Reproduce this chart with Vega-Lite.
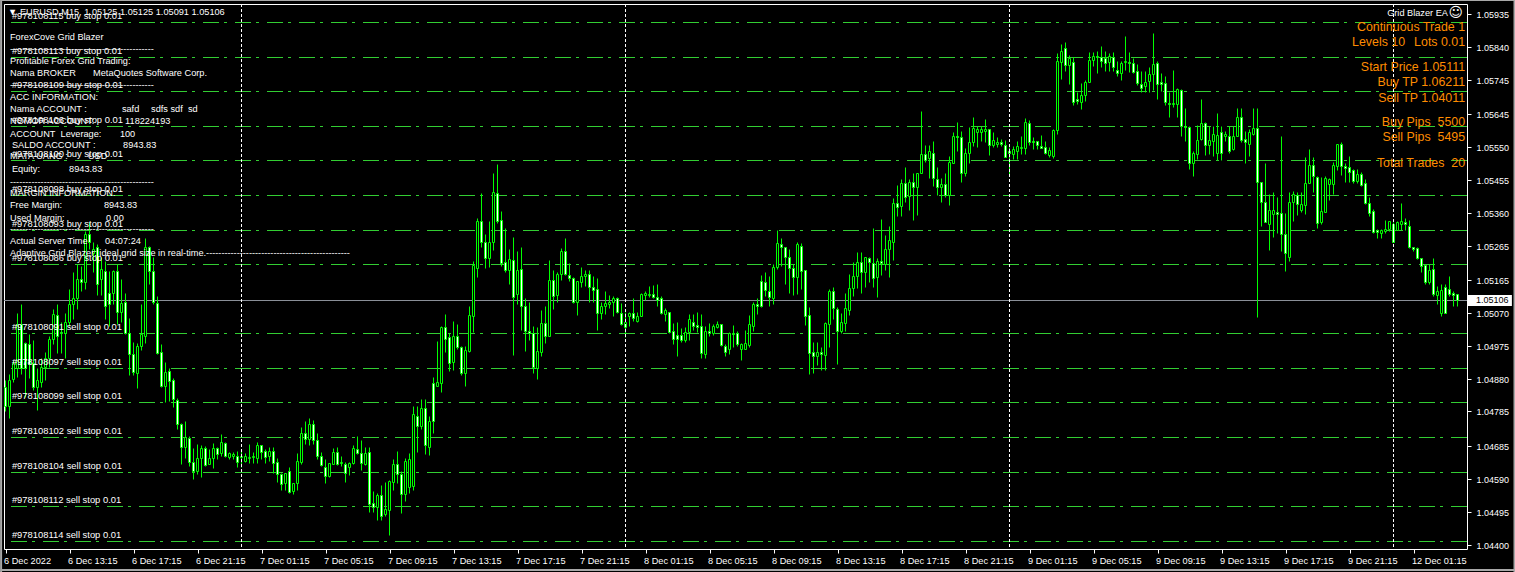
{"$schema":"https://vega.github.io/schema/vega-lite/v6.json","width":1463,"height":545,"autosize":{"type":"none"},"padding":{"left":4,"top":4,"right":48,"bottom":23},"background":"#000000","view":{"stroke":"#ffffff","strokeWidth":1,"fill":"#000000"},
"datasets":{
"grid":[{"p":1.05911},{"p":1.05811},{"p":1.05711},{"p":1.05611},{"p":1.05511},{"p":1.05411},{"p":1.05311},{"p":1.05211},{"p":1.05011},{"p":1.04911},{"p":1.04811},{"p":1.04711},{"p":1.04611},{"p":1.04511},{"p":1.04411}],
"last":[{"p":1.05106}],
"days":[{"i":59},{"i":155},{"i":251},{"i":347}],
"edge":[{"i":-1.25,"i2":377.5,"p":1.05974,"p2":1.05974},{"i":-1.25,"i2":377.5,"p":1.04326,"p2":1.04326},{"i":-1.1,"i2":-1.1,"p":1.05977,"p2":1.0432},{"i":377.25,"i2":377.25,"p":1.05977,"p2":1.0432}],
"orders":[{"i":1.6,"p":1.05911,"t":"#978108115 buy stop 0.01"},{"i":1.6,"p":1.05811,"t":"#978108113 buy stop 0.01"},{"i":1.6,"p":1.05711,"t":"#978108109 buy stop 0.01"},{"i":1.6,"p":1.05611,"t":"#978108106 buy stop 0.01"},{"i":1.6,"p":1.05511,"t":"#978108100 buy stop 0.01"},{"i":1.6,"p":1.05411,"t":"#978108098 buy stop 0.01"},{"i":1.6,"p":1.05311,"t":"#978108093 buy stop 0.01"},{"i":1.6,"p":1.05211,"t":"#978108086 buy stop 0.01"},{"i":1.6,"p":1.05011,"t":"#978108091 sell stop 0.01"},{"i":1.6,"p":1.04911,"t":"#978108097 sell stop 0.01"},{"i":1.6,"p":1.04811,"t":"#978108099 sell stop 0.01"},{"i":1.6,"p":1.04711,"t":"#978108102 sell stop 0.01"},{"i":1.6,"p":1.04611,"t":"#978108104 sell stop 0.01"},{"i":1.6,"p":1.04511,"t":"#978108112 sell stop 0.01"},{"i":1.6,"p":1.04411,"t":"#978108114 sell stop 0.01"}],
"panel":[{"i":0.6,"p":1.05941,"t":"▼"},{"i":3.6,"p":1.05941,"t":"EURUSD,M15\u00a0\u00a01.05125 1.05125 1.05091 1.05106"},{"i":1.125,"p":1.05867,"t":"ForexCove Grid Blazer"},{"i":1.125,"p":1.05832,"t":"-----------------------------------------------"},{"i":1.125,"p":1.05798,"t":"Profitable Forex Grid Trading:"},{"i":1.125,"p":1.05763,"t":"Nama BROKER"},{"i":21.9,"p":1.05763,"t":"MetaQuotes Software Corp."},{"i":1.125,"p":1.05728,"t":"-----------------------------------------------"},{"i":1.125,"p":1.05696,"t":"ACC INFORMATION:"},{"i":1.125,"p":1.05659,"t":"Nama ACCOUNT :"},{"i":29.1,"p":1.05659,"t":"safd"},{"i":36.4,"p":1.05659,"t":"sdfs sdf"},{"i":45.6,"p":1.05659,"t":"sd"},{"i":1.125,"p":1.05624,"t":"NOMOR ACCOUNT:"},{"i":29.9,"p":1.05624,"t":"118224193"},{"i":1.125,"p":1.05589,"t":"ACCOUNT\u00a0\u00a0Leverage:"},{"i":28.6,"p":1.05589,"t":"100"},{"i":1.6,"p":1.05555,"t":"SALDO ACCOUNT :"},{"i":29.4,"p":1.05555,"t":"8943.83"},{"i":1.125,"p":1.05523,"t":"MATA UANG :"},{"i":20.6,"p":1.05523,"t":"USD"},{"i":1.6,"p":1.05485,"t":"Equity:"},{"i":15.9,"p":1.05485,"t":"8943.83"},{"i":1.125,"p":1.0545,"t":"-----------------------------------------------"},{"i":1.125,"p":1.05416,"t":"MARGIN INFORMATION:"},{"i":1.125,"p":1.05381,"t":"Free Margin:"},{"i":24.6,"p":1.05381,"t":"8943.83"},{"i":1.125,"p":1.05346,"t":"Used Margin:"},{"i":25.1,"p":1.05346,"t":"0.00"},{"i":1.125,"p":1.05312,"t":"-----------------------------------------------"},{"i":1.125,"p":1.05277,"t":"Actual Server Time"},{"i":24.9,"p":1.05277,"t":"04:07:24"},{"i":1.125,"p":1.05242,"t":"Adaptive Grid Blazer: ideal grid size in real-time.-----------------------------------------------"}],
"side":[{"i":364.9,"p":1.05896,"t":"Continuous Trade 1"},{"i":349.9,"p":1.05853,"t":"Levels 10"},{"i":364.9,"p":1.05853,"t":"Lots 0.01"},{"i":364.9,"p":1.0578,"t":"Start Price 1.05111"},{"i":364.9,"p":1.05737,"t":"Buy TP 1.06211"},{"i":364.9,"p":1.05693,"t":"Sell TP 1.04011"},{"i":364.9,"p":1.05621,"t":"Buy Pips\u00a0\u00a05500"},{"i":364.9,"p":1.05578,"t":"Sell Pips\u00a0\u00a05495"},{"i":364.9,"p":1.05505,"t":"Total Trades\u00a0\u00a020"}],
"ea":[{"i":360.6,"p":1.05937,"t":"Grid Blazer EA"}],
"smile":[{"i":362.6,"p":1.05937,"t":"☺"}],
"tag":[{"i":365.6,"i2":376.6,"p":1.05123,"p2":1.05089}],
"tagtext":[{"i":367.6,"p":1.05106,"t":"1.05106"}],
"bars":[
{"i":0,"o":1.04857,"h":1.04877,"l":1.04785,"c":1.048},{"i":1,"o":1.048,"h":1.04892,"l":1.04765,"c":1.04877},{"i":2,"o":1.0488,"h":1.04935,"l":1.04871,"c":1.04926},{"i":3,"o":1.04912,"h":1.05071,"l":1.04886,"c":1.05039},{"i":4,"o":1.05039,"h":1.05097,"l":1.04892,"c":1.04912},{"i":5,"o":1.04984,"h":1.04987,"l":1.04828,"c":1.04912},{"i":6,"o":1.04981,"h":1.05008,"l":1.04883,"c":1.04921},{"i":7,"o":1.04926,"h":1.04993,"l":1.04848,"c":1.04857},{"i":8,"o":1.04857,"h":1.04912,"l":1.04788,"c":1.04877},{"i":9,"o":1.04871,"h":1.04941,"l":1.04857,"c":1.04915},
{"i":10,"o":1.04915,"h":1.04958,"l":1.04877,"c":1.04941},{"i":11,"o":1.04941,"h":1.05002,"l":1.04915,"c":1.04996},{"i":12,"o":1.04996,"h":1.0508,"l":1.04979,"c":1.05068},{"i":13,"o":1.05063,"h":1.05095,"l":1.04955,"c":1.05002},{"i":14,"o":1.05016,"h":1.05045,"l":1.04955,"c":1.05013},{"i":15,"o":1.05013,"h":1.05071,"l":1.04941,"c":1.05045},{"i":16,"o":1.05045,"h":1.05138,"l":1.05031,"c":1.05097},{"i":17,"o":1.05097,"h":1.05187,"l":1.05051,"c":1.05112},{"i":18,"o":1.05112,"h":1.05211,"l":1.0508,"c":1.05167},{"i":19,"o":1.05167,"h":1.05205,"l":1.05132,"c":1.05158},
{"i":20,"o":1.05158,"h":1.05306,"l":1.05138,"c":1.05297},{"i":21,"o":1.05297,"h":1.05332,"l":1.05254,"c":1.05274},{"i":22,"o":1.05242,"h":1.05274,"l":1.05187,"c":1.05254},{"i":23,"o":1.0526,"h":1.05268,"l":1.05123,"c":1.05153},{"i":24,"o":1.05167,"h":1.05233,"l":1.05123,"c":1.05196},{"i":25,"o":1.0519,"h":1.05219,"l":1.05051,"c":1.05091},{"i":26,"o":1.05129,"h":1.0519,"l":1.05031,"c":1.05095},{"i":27,"o":1.05129,"h":1.05193,"l":1.05095,"c":1.0519},{"i":28,"o":1.0519,"h":1.05211,"l":1.05037,"c":1.05074},{"i":29,"o":1.05074,"h":1.05167,"l":1.05045,"c":1.051},
{"i":30,"o":1.05103,"h":1.05129,"l":1.05008,"c":1.05013},{"i":31,"o":1.05013,"h":1.05054,"l":1.04889,"c":1.0495},{"i":32,"o":1.04952,"h":1.04987,"l":1.04889,"c":1.049},{"i":33,"o":1.04897,"h":1.04984,"l":1.04854,"c":1.04973},{"i":34,"o":1.04973,"h":1.05097,"l":1.04964,"c":1.05008},{"i":35,"o":1.05002,"h":1.05288,"l":1.04984,"c":1.0526},{"i":36,"o":1.0526,"h":1.05265,"l":1.05155,"c":1.0519},{"i":37,"o":1.0519,"h":1.05233,"l":1.05095,"c":1.05103},{"i":38,"o":1.051,"h":1.05118,"l":1.0495,"c":1.04955},{"i":39,"o":1.04958,"h":1.04979,"l":1.04857,"c":1.0486},
{"i":40,"o":1.0486,"h":1.04929,"l":1.04811,"c":1.049},{"i":41,"o":1.04903,"h":1.04912,"l":1.04814,"c":1.04874},{"i":42,"o":1.04877,"h":1.04883,"l":1.04797,"c":1.0482},{"i":43,"o":1.04817,"h":1.04825,"l":1.04733,"c":1.04748},{"i":44,"o":1.04748,"h":1.04753,"l":1.04634,"c":1.04681},{"i":45,"o":1.04681,"h":1.04756,"l":1.04649,"c":1.0471},{"i":46,"o":1.04707,"h":1.04713,"l":1.04626,"c":1.0464},{"i":47,"o":1.0464,"h":1.04678,"l":1.04591,"c":1.04614},{"i":48,"o":1.04614,"h":1.04692,"l":1.04603,"c":1.04649},{"i":49,"o":1.04649,"h":1.04687,"l":1.04594,"c":1.04678},
{"i":50,"o":1.04678,"h":1.04684,"l":1.04626,"c":1.04629},{"i":51,"o":1.04632,"h":1.04675,"l":1.04632,"c":1.04649},{"i":52,"o":1.04649,"h":1.04695,"l":1.0462,"c":1.04678},{"i":53,"o":1.04678,"h":1.04681,"l":1.04646,"c":1.04661},{"i":54,"o":1.04666,"h":1.04719,"l":1.04655,"c":1.04698},{"i":55,"o":1.04695,"h":1.04698,"l":1.04652,"c":1.04655},{"i":56,"o":1.04652,"h":1.04669,"l":1.04646,"c":1.04664},{"i":57,"o":1.04655,"h":1.04669,"l":1.04646,"c":1.04661},{"i":58,"o":1.04655,"h":1.04672,"l":1.04623,"c":1.0464},{"i":59,"o":1.04652,"h":1.04675,"l":1.04623,"c":1.04655},
{"i":60,"o":1.04643,"h":1.04666,"l":1.0464,"c":1.04655},{"i":61,"o":1.04649,"h":1.04692,"l":1.04637,"c":1.04652},{"i":62,"o":1.04652,"h":1.04669,"l":1.04637,"c":1.04655},{"i":63,"o":1.04649,"h":1.04698,"l":1.04637,"c":1.04689},{"i":64,"o":1.04687,"h":1.04689,"l":1.04646,"c":1.04669},{"i":65,"o":1.04672,"h":1.04675,"l":1.04637,"c":1.04652},{"i":66,"o":1.04655,"h":1.04681,"l":1.04643,"c":1.04672},{"i":67,"o":1.04672,"h":1.04681,"l":1.04608,"c":1.04637},{"i":68,"o":1.0464,"h":1.04649,"l":1.04582,"c":1.04603},{"i":69,"o":1.04605,"h":1.04608,"l":1.04559,"c":1.04574},
{"i":70,"o":1.04577,"h":1.04608,"l":1.04559,"c":1.04608},{"i":71,"o":1.04614,"h":1.04623,"l":1.04548,"c":1.04553},{"i":72,"o":1.04556,"h":1.04579,"l":1.04545,"c":1.04577},{"i":73,"o":1.04577,"h":1.04664,"l":1.04559,"c":1.04643},{"i":74,"o":1.0464,"h":1.04739,"l":1.04632,"c":1.04724},{"i":75,"o":1.04724,"h":1.04756,"l":1.04692,"c":1.04704},{"i":76,"o":1.04704,"h":1.04765,"l":1.04689,"c":1.0475},{"i":77,"o":1.04748,"h":1.04759,"l":1.04692,"c":1.04701},{"i":78,"o":1.04701,"h":1.04724,"l":1.04646,"c":1.04655},{"i":79,"o":1.04655,"h":1.04669,"l":1.04626,"c":1.04629},
{"i":80,"o":1.04623,"h":1.04646,"l":1.04579,"c":1.04597},{"i":81,"o":1.04597,"h":1.04637,"l":1.04594,"c":1.04637},{"i":82,"o":1.04634,"h":1.04678,"l":1.04632,"c":1.04669},{"i":83,"o":1.04669,"h":1.04681,"l":1.04629,"c":1.04634},{"i":84,"o":1.04637,"h":1.04655,"l":1.04626,"c":1.0464},{"i":85,"o":1.04634,"h":1.0464,"l":1.04582,"c":1.04608},{"i":86,"o":1.04623,"h":1.0464,"l":1.046,"c":1.04637},{"i":87,"o":1.04637,"h":1.04689,"l":1.04632,"c":1.04678},{"i":88,"o":1.04675,"h":1.04713,"l":1.04661,"c":1.04664},{"i":89,"o":1.04664,"h":1.04701,"l":1.04617,"c":1.04637},
{"i":90,"o":1.04632,"h":1.04681,"l":1.04629,"c":1.04666},{"i":91,"o":1.04669,"h":1.04681,"l":1.04493,"c":1.04516},{"i":92,"o":1.04519,"h":1.04556,"l":1.04493,"c":1.0451},{"i":93,"o":1.0451,"h":1.04548,"l":1.04472,"c":1.04542},{"i":94,"o":1.04542,"h":1.04571,"l":1.04472,"c":1.04484},{"i":95,"o":1.04487,"h":1.04582,"l":1.04484,"c":1.04504},{"i":96,"o":1.04501,"h":1.04588,"l":1.04429,"c":1.04585},{"i":97,"o":1.04582,"h":1.04646,"l":1.04559,"c":1.04632},{"i":98,"o":1.04632,"h":1.04672,"l":1.04579,"c":1.04605},{"i":99,"o":1.04605,"h":1.04614,"l":1.0449,"c":1.04545},
{"i":100,"o":1.04545,"h":1.04649,"l":1.04527,"c":1.04643},{"i":101,"o":1.04565,"h":1.04664,"l":1.0455,"c":1.04646},{"i":102,"o":1.04568,"h":1.04802,"l":1.04559,"c":1.04779},{"i":103,"o":1.04773,"h":1.04802,"l":1.04669,"c":1.04742},{"i":104,"o":1.04742,"h":1.0482,"l":1.04733,"c":1.04794},{"i":105,"o":1.04794,"h":1.0482,"l":1.04661,"c":1.04687},{"i":106,"o":1.04681,"h":1.04771,"l":1.04658,"c":1.04756},{"i":107,"o":1.04866,"h":1.04886,"l":1.04724,"c":1.04756},{"i":108,"o":1.0486,"h":1.0499,"l":1.0486,"c":1.04871},{"i":109,"o":1.04868,"h":1.05031,"l":1.0484,"c":1.05028},
{"i":110,"o":1.05028,"h":1.05068,"l":1.04958,"c":1.04996},{"i":111,"o":1.04999,"h":1.05011,"l":1.04903,"c":1.04926},{"i":112,"o":1.04929,"h":1.05048,"l":1.04906,"c":1.05002},{"i":113,"o":1.05002,"h":1.05037,"l":1.04967,"c":1.0497},{"i":114,"o":1.0497,"h":1.04973,"l":1.04889,"c":1.04897},{"i":115,"o":1.04897,"h":1.04973,"l":1.0486,"c":1.04964},{"i":116,"o":1.04961,"h":1.05089,"l":1.04958,"c":1.05063},{"i":117,"o":1.0506,"h":1.05219,"l":1.05016,"c":1.05208},{"i":118,"o":1.05199,"h":1.05346,"l":1.05173,"c":1.05337},{"i":119,"o":1.05337,"h":1.05416,"l":1.05262,"c":1.05274},
{"i":120,"o":1.05274,"h":1.05297,"l":1.05199,"c":1.0523},{"i":121,"o":1.0523,"h":1.05337,"l":1.05202,"c":1.05274},{"i":122,"o":1.05274,"h":1.05474,"l":1.05251,"c":1.05419},{"i":123,"o":1.05416,"h":1.055,"l":1.05329,"c":1.05337},{"i":124,"o":1.0534,"h":1.05364,"l":1.05205,"c":1.05213},{"i":125,"o":1.05216,"h":1.05317,"l":1.05187,"c":1.05193},{"i":126,"o":1.05193,"h":1.05254,"l":1.05155,"c":1.05225},{"i":127,"o":1.05222,"h":1.05291,"l":1.04947,"c":1.05115},{"i":128,"o":1.05126,"h":1.05248,"l":1.05095,"c":1.05193},{"i":129,"o":1.05196,"h":1.0526,"l":1.05022,"c":1.05089},
{"i":130,"o":1.05089,"h":1.05112,"l":1.04961,"c":1.05019},{"i":131,"o":1.05019,"h":1.05103,"l":1.04993,"c":1.05011},{"i":132,"o":1.05011,"h":1.05031,"l":1.04897,"c":1.04915},{"i":133,"o":1.04912,"h":1.05028,"l":1.0488,"c":1.04961},{"i":134,"o":1.04958,"h":1.05077,"l":1.04944,"c":1.05042},{"i":135,"o":1.05042,"h":1.05089,"l":1.04984,"c":1.05002},{"i":136,"o":1.05002,"h":1.05222,"l":1.05002,"c":1.05164},{"i":137,"o":1.05164,"h":1.05193,"l":1.0508,"c":1.05118},{"i":138,"o":1.05121,"h":1.05187,"l":1.05103,"c":1.05184},{"i":139,"o":1.05184,"h":1.05257,"l":1.05164,"c":1.05248},
{"i":140,"o":1.05248,"h":1.05286,"l":1.05181,"c":1.05184},{"i":141,"o":1.05181,"h":1.05213,"l":1.05161,"c":1.0517},{"i":142,"o":1.0517,"h":1.05173,"l":1.051,"c":1.05103},{"i":143,"o":1.05103,"h":1.05161,"l":1.05063,"c":1.05161},{"i":144,"o":1.05158,"h":1.05202,"l":1.05144,"c":1.05176},{"i":145,"o":1.05176,"h":1.05193,"l":1.05147,"c":1.05184},{"i":146,"o":1.05184,"h":1.05193,"l":1.05103,"c":1.05144},{"i":147,"o":1.05144,"h":1.05178,"l":1.05103,"c":1.05135},{"i":148,"o":1.05138,"h":1.0517,"l":1.05022,"c":1.05071},{"i":149,"o":1.05071,"h":1.05103,"l":1.05051,"c":1.05089},
{"i":150,"o":1.05089,"h":1.05132,"l":1.05068,"c":1.051},{"i":151,"o":1.05095,"h":1.05123,"l":1.05083,"c":1.05103},{"i":152,"o":1.05103,"h":1.05118,"l":1.0506,"c":1.05112},{"i":153,"o":1.05112,"h":1.05115,"l":1.05071,"c":1.05074},{"i":154,"o":1.05071,"h":1.051,"l":1.05034,"c":1.05037},{"i":155,"o":1.05028,"h":1.05074,"l":1.04999,"c":1.05045},{"i":156,"o":1.0506,"h":1.05074,"l":1.05031,"c":1.05071},{"i":157,"o":1.05071,"h":1.05112,"l":1.05048,"c":1.05054},{"i":158,"o":1.05048,"h":1.05074,"l":1.05045,"c":1.0506},{"i":159,"o":1.0506,"h":1.05129,"l":1.0506,"c":1.05126},
{"i":160,"o":1.05123,"h":1.05132,"l":1.05106,"c":1.05129},{"i":161,"o":1.05123,"h":1.05147,"l":1.05115,"c":1.05126},{"i":162,"o":1.05126,"h":1.0515,"l":1.05112,"c":1.05115},{"i":163,"o":1.05115,"h":1.05153,"l":1.05089,"c":1.05106},{"i":164,"o":1.05112,"h":1.05118,"l":1.05068,"c":1.05071},{"i":165,"o":1.05068,"h":1.05083,"l":1.05048,"c":1.05077},{"i":166,"o":1.05074,"h":1.05074,"l":1.05011,"c":1.05016},{"i":167,"o":1.05019,"h":1.05042,"l":1.04979,"c":1.04996},{"i":168,"o":1.05005,"h":1.05045,"l":1.04944,"c":1.04996},{"i":169,"o":1.05005,"h":1.05025,"l":1.04987,"c":1.04993},
{"i":170,"o":1.04993,"h":1.05028,"l":1.04987,"c":1.05016},{"i":171,"o":1.05016,"h":1.05068,"l":1.04993,"c":1.05051},{"i":172,"o":1.05045,"h":1.05068,"l":1.05022,"c":1.05031},{"i":173,"o":1.05034,"h":1.05074,"l":1.05016,"c":1.05028},{"i":174,"o":1.05031,"h":1.05066,"l":1.04941,"c":1.04955},{"i":175,"o":1.04952,"h":1.05031,"l":1.04941,"c":1.05019},{"i":176,"o":1.05019,"h":1.05042,"l":1.05002,"c":1.05013},{"i":177,"o":1.05013,"h":1.05039,"l":1.05005,"c":1.05031},{"i":178,"o":1.05028,"h":1.05048,"l":1.05025,"c":1.05039},{"i":179,"o":1.05037,"h":1.05039,"l":1.04973,"c":1.04976},
{"i":180,"o":1.04973,"h":1.04979,"l":1.04944,"c":1.04958},{"i":181,"o":1.04967,"h":1.05016,"l":1.0495,"c":1.05011},{"i":182,"o":1.05011,"h":1.05034,"l":1.0497,"c":1.05008},{"i":183,"o":1.05013,"h":1.05019,"l":1.04973,"c":1.04979},{"i":184,"o":1.04967,"h":1.04984,"l":1.04935,"c":1.04981},{"i":185,"o":1.04967,"h":1.05022,"l":1.04967,"c":1.04984},{"i":186,"o":1.04976,"h":1.05063,"l":1.0497,"c":1.05037},{"i":187,"o":1.05031,"h":1.05103,"l":1.05019,"c":1.05095},{"i":188,"o":1.05095,"h":1.05112,"l":1.05066,"c":1.05089},{"i":189,"o":1.05161,"h":1.05181,"l":1.05086,"c":1.05089},
{"i":190,"o":1.05158,"h":1.05187,"l":1.05118,"c":1.05135},{"i":191,"o":1.05132,"h":1.05178,"l":1.05091,"c":1.05115},{"i":192,"o":1.05112,"h":1.05211,"l":1.05095,"c":1.05202},{"i":193,"o":1.05202,"h":1.05309,"l":1.05196,"c":1.05271},{"i":194,"o":1.05268,"h":1.05286,"l":1.05205,"c":1.05262},{"i":195,"o":1.05262,"h":1.05262,"l":1.05153,"c":1.05233},{"i":196,"o":1.05233,"h":1.05254,"l":1.05129,"c":1.05199},{"i":197,"o":1.05199,"h":1.05211,"l":1.05121,"c":1.05173},{"i":198,"o":1.05173,"h":1.05274,"l":1.05126,"c":1.05268},{"i":199,"o":1.05265,"h":1.05271,"l":1.05138,"c":1.0519},
{"i":200,"o":1.05193,"h":1.05193,"l":1.05034,"c":1.0506},{"i":201,"o":1.05063,"h":1.05086,"l":1.04892,"c":1.04955},{"i":202,"o":1.04958,"h":1.04987,"l":1.04895,"c":1.04944},{"i":203,"o":1.04944,"h":1.04987,"l":1.04918,"c":1.04958},{"i":204,"o":1.04958,"h":1.0497,"l":1.04906,"c":1.0495},{"i":205,"o":1.04947,"h":1.05045,"l":1.04906,"c":1.05042},{"i":206,"o":1.05037,"h":1.05138,"l":1.0497,"c":1.05132},{"i":207,"o":1.05132,"h":1.05144,"l":1.05051,"c":1.05083},{"i":208,"o":1.0508,"h":1.05086,"l":1.04921,"c":1.05019},{"i":209,"o":1.05019,"h":1.05071,"l":1.05011,"c":1.05045},
{"i":210,"o":1.05042,"h":1.05129,"l":1.05019,"c":1.05083},{"i":211,"o":1.05077,"h":1.05184,"l":1.05063,"c":1.05141},{"i":212,"o":1.05141,"h":1.05216,"l":1.05118,"c":1.05176},{"i":213,"o":1.05178,"h":1.05245,"l":1.05141,"c":1.05216},{"i":214,"o":1.05216,"h":1.05245,"l":1.05129,"c":1.05187},{"i":215,"o":1.05187,"h":1.05233,"l":1.05144,"c":1.05233},{"i":216,"o":1.0523,"h":1.05233,"l":1.05158,"c":1.05216},{"i":217,"o":1.05213,"h":1.05317,"l":1.05144,"c":1.0517},{"i":218,"o":1.05173,"h":1.0523,"l":1.05115,"c":1.05219},{"i":219,"o":1.05219,"h":1.05343,"l":1.05181,"c":1.05213},
{"i":220,"o":1.05211,"h":1.05294,"l":1.05193,"c":1.05254},{"i":221,"o":1.05254,"h":1.0532,"l":1.05173,"c":1.0528},{"i":222,"o":1.05274,"h":1.05401,"l":1.05222,"c":1.05387},{"i":223,"o":1.05387,"h":1.05439,"l":1.05349,"c":1.05375},{"i":224,"o":1.05378,"h":1.05456,"l":1.05349,"c":1.05445},{"i":225,"o":1.05445,"h":1.05491,"l":1.0539,"c":1.05404},{"i":226,"o":1.05407,"h":1.05456,"l":1.05369,"c":1.05448},{"i":227,"o":1.05448,"h":1.05474,"l":1.0534,"c":1.05433},{"i":228,"o":1.05433,"h":1.05474,"l":1.05352,"c":1.05474},{"i":229,"o":1.05474,"h":1.05653,"l":1.05474,"c":1.05531},
{"i":230,"o":1.05531,"h":1.05557,"l":1.05508,"c":1.05511},{"i":231,"o":1.05517,"h":1.05557,"l":1.05459,"c":1.05537},{"i":232,"o":1.05534,"h":1.05566,"l":1.05436,"c":1.05459},{"i":233,"o":1.05456,"h":1.05491,"l":1.0541,"c":1.05433},{"i":234,"o":1.05433,"h":1.05459,"l":1.0539,"c":1.05442},{"i":235,"o":1.05442,"h":1.05474,"l":1.05404,"c":1.0541},{"i":236,"o":1.0541,"h":1.05523,"l":1.05381,"c":1.05508},{"i":237,"o":1.05505,"h":1.05592,"l":1.05505,"c":1.05583},{"i":238,"o":1.05583,"h":1.05621,"l":1.05537,"c":1.0558},{"i":239,"o":1.05578,"h":1.05595,"l":1.0545,"c":1.05476},
{"i":240,"o":1.05474,"h":1.05546,"l":1.05465,"c":1.05534},{"i":241,"o":1.05534,"h":1.05607,"l":1.05505,"c":1.05563},{"i":242,"o":1.05563,"h":1.05638,"l":1.05552,"c":1.05604},{"i":243,"o":1.05592,"h":1.0561,"l":1.05549,"c":1.05601},{"i":244,"o":1.05592,"h":1.0561,"l":1.05566,"c":1.05601},{"i":245,"o":1.05595,"h":1.0563,"l":1.05563,"c":1.05601},{"i":246,"o":1.05601,"h":1.05601,"l":1.05528,"c":1.05557},{"i":247,"o":1.05555,"h":1.05592,"l":1.05549,"c":1.05569},{"i":248,"o":1.0556,"h":1.05578,"l":1.05549,"c":1.05563},{"i":249,"o":1.05563,"h":1.05572,"l":1.05552,"c":1.0556},
{"i":250,"o":1.05555,"h":1.05569,"l":1.0552,"c":1.0552},{"i":251,"o":1.05537,"h":1.05549,"l":1.05465,"c":1.05534},{"i":252,"o":1.05531,"h":1.05552,"l":1.05514,"c":1.05543},{"i":253,"o":1.05537,"h":1.05566,"l":1.05514,"c":1.05552},{"i":254,"o":1.05546,"h":1.05581,"l":1.05531,"c":1.05549},{"i":255,"o":1.05546,"h":1.05633,"l":1.05531,"c":1.05621},{"i":256,"o":1.05618,"h":1.05627,"l":1.05557,"c":1.05563},{"i":257,"o":1.05566,"h":1.05578,"l":1.05543,"c":1.05563},{"i":258,"o":1.05566,"h":1.05566,"l":1.05543,"c":1.05555},{"i":259,"o":1.05552,"h":1.05586,"l":1.05546,"c":1.05546},
{"i":260,"o":1.05549,"h":1.05566,"l":1.05531,"c":1.05534},{"i":261,"o":1.05526,"h":1.05549,"l":1.0552,"c":1.0554},{"i":262,"o":1.05523,"h":1.05601,"l":1.05517,"c":1.05598},{"i":263,"o":1.05598,"h":1.05821,"l":1.05589,"c":1.05798},{"i":264,"o":1.05795,"h":1.05847,"l":1.05748,"c":1.05827},{"i":265,"o":1.05835,"h":1.05855,"l":1.05769,"c":1.05786},{"i":266,"o":1.05786,"h":1.05815,"l":1.05731,"c":1.05806},{"i":267,"o":1.05795,"h":1.05809,"l":1.0567,"c":1.05679},{"i":268,"o":1.05688,"h":1.05708,"l":1.05673,"c":1.05682},{"i":269,"o":1.05679,"h":1.05734,"l":1.05659,"c":1.05699},
{"i":270,"o":1.05699,"h":1.05743,"l":1.05682,"c":1.05737},{"i":271,"o":1.05737,"h":1.05824,"l":1.05737,"c":1.05803},{"i":272,"o":1.05803,"h":1.05824,"l":1.05783,"c":1.05812},{"i":273,"o":1.05812,"h":1.05827,"l":1.05763,"c":1.05809},{"i":274,"o":1.05809,"h":1.05841,"l":1.0578,"c":1.058},{"i":275,"o":1.05806,"h":1.05827,"l":1.05769,"c":1.05792},{"i":276,"o":1.05795,"h":1.05821,"l":1.05769,"c":1.05812},{"i":277,"o":1.05809,"h":1.05824,"l":1.05769,"c":1.0578},{"i":278,"o":1.05774,"h":1.05798,"l":1.05754,"c":1.05763},{"i":279,"o":1.05763,"h":1.05798,"l":1.05743,"c":1.05792},
{"i":280,"o":1.05795,"h":1.0587,"l":1.05774,"c":1.058},{"i":281,"o":1.05795,"h":1.05824,"l":1.05766,"c":1.05792},{"i":282,"o":1.05792,"h":1.05806,"l":1.05763,"c":1.05766},{"i":283,"o":1.05769,"h":1.05789,"l":1.05728,"c":1.05734},{"i":284,"o":1.05731,"h":1.05769,"l":1.05708,"c":1.05722},{"i":285,"o":1.05725,"h":1.05769,"l":1.05708,"c":1.05737},{"i":286,"o":1.0574,"h":1.0578,"l":1.05708,"c":1.0576},{"i":287,"o":1.0576,"h":1.05881,"l":1.05714,"c":1.05789},{"i":288,"o":1.05792,"h":1.05798,"l":1.05688,"c":1.05731},{"i":289,"o":1.05737,"h":1.05763,"l":1.05711,"c":1.05731},
{"i":290,"o":1.05734,"h":1.05754,"l":1.0567,"c":1.05679},{"i":291,"o":1.05676,"h":1.05708,"l":1.05636,"c":1.05673},{"i":292,"o":1.05673,"h":1.05772,"l":1.05667,"c":1.05676},{"i":293,"o":1.05673,"h":1.0572,"l":1.05636,"c":1.05717},{"i":294,"o":1.05714,"h":1.05717,"l":1.05581,"c":1.0561},{"i":295,"o":1.05612,"h":1.05664,"l":1.05566,"c":1.05607},{"i":296,"o":1.05607,"h":1.0561,"l":1.05485,"c":1.05505},{"i":297,"o":1.05505,"h":1.05537,"l":1.05465,"c":1.05534},{"i":298,"o":1.05531,"h":1.05615,"l":1.05514,"c":1.05569},{"i":299,"o":1.05572,"h":1.05688,"l":1.05569,"c":1.05618},
{"i":300,"o":1.05618,"h":1.05621,"l":1.05526,"c":1.05557},{"i":301,"o":1.05557,"h":1.05612,"l":1.05531,"c":1.05569},{"i":302,"o":1.05566,"h":1.0561,"l":1.05523,"c":1.05589},{"i":303,"o":1.05534,"h":1.05647,"l":1.05511,"c":1.05586},{"i":304,"o":1.05592,"h":1.05612,"l":1.05511,"c":1.05534},{"i":305,"o":1.05583,"h":1.05595,"l":1.05566,"c":1.05589},{"i":306,"o":1.05581,"h":1.0561,"l":1.05534,"c":1.05537},{"i":307,"o":1.05543,"h":1.0561,"l":1.0554,"c":1.05583},{"i":308,"o":1.05583,"h":1.05662,"l":1.05581,"c":1.05638},{"i":309,"o":1.05636,"h":1.05664,"l":1.05563,"c":1.05569},
{"i":310,"o":1.05572,"h":1.05595,"l":1.05503,"c":1.05563},{"i":311,"o":1.0556,"h":1.05601,"l":1.05523,"c":1.05592},{"i":312,"o":1.05589,"h":1.05664,"l":1.05586,"c":1.05604},{"i":313,"o":1.05604,"h":1.05664,"l":1.05057,"c":1.05448},{"i":314,"o":1.05448,"h":1.05448,"l":1.0532,"c":1.0539},{"i":315,"o":1.05392,"h":1.05505,"l":1.05332,"c":1.05332},{"i":316,"o":1.05326,"h":1.05413,"l":1.05251,"c":1.05369},{"i":317,"o":1.05355,"h":1.05419,"l":1.05291,"c":1.05369},{"i":318,"o":1.05361,"h":1.05404,"l":1.053,"c":1.05355},{"i":319,"o":1.05358,"h":1.05583,"l":1.05248,"c":1.05297},
{"i":320,"o":1.05297,"h":1.05358,"l":1.0519,"c":1.05242},{"i":321,"o":1.05233,"h":1.05419,"l":1.05219,"c":1.0539},{"i":322,"o":1.0539,"h":1.05424,"l":1.05337,"c":1.05413},{"i":323,"o":1.0541,"h":1.05421,"l":1.05352,"c":1.05384},{"i":324,"o":1.05367,"h":1.05419,"l":1.05361,"c":1.05384},{"i":325,"o":1.05381,"h":1.0552,"l":1.05355,"c":1.05445},{"i":326,"o":1.05445,"h":1.05543,"l":1.05445,"c":1.05497},{"i":327,"o":1.05497,"h":1.0552,"l":1.05419,"c":1.05465},{"i":328,"o":1.05462,"h":1.05465,"l":1.05317,"c":1.05329},{"i":329,"o":1.05332,"h":1.05462,"l":1.05326,"c":1.05364},
{"i":330,"o":1.05361,"h":1.05465,"l":1.05361,"c":1.05459},{"i":331,"o":1.05442,"h":1.05459,"l":1.05398,"c":1.05456},{"i":332,"o":1.05442,"h":1.05508,"l":1.05413,"c":1.05497},{"i":333,"o":1.05494,"h":1.0556,"l":1.05482,"c":1.0556},{"i":334,"o":1.0556,"h":1.05563,"l":1.05468,"c":1.05494},{"i":335,"o":1.05494,"h":1.05505,"l":1.05448,"c":1.05488},{"i":336,"o":1.05491,"h":1.05523,"l":1.0545,"c":1.05479},{"i":337,"o":1.05482,"h":1.05485,"l":1.05445,"c":1.05453},{"i":338,"o":1.05453,"h":1.05485,"l":1.05445,"c":1.05471},{"i":339,"o":1.05471,"h":1.05479,"l":1.05436,"c":1.05439},
{"i":340,"o":1.05445,"h":1.05456,"l":1.05384,"c":1.05387},{"i":341,"o":1.05387,"h":1.05404,"l":1.05349,"c":1.05358},{"i":342,"o":1.05364,"h":1.05372,"l":1.053,"c":1.05303},{"i":343,"o":1.05309,"h":1.05312,"l":1.05288,"c":1.05303},{"i":344,"o":1.053,"h":1.05312,"l":1.05286,"c":1.05309},{"i":345,"o":1.05306,"h":1.0534,"l":1.053,"c":1.05314},{"i":346,"o":1.05312,"h":1.05337,"l":1.05306,"c":1.05335},{"i":347,"o":1.05326,"h":1.05332,"l":1.05274,"c":1.05274},{"i":348,"o":1.05309,"h":1.05335,"l":1.05309,"c":1.05332},{"i":349,"o":1.05326,"h":1.05387,"l":1.05309,"c":1.05335},
{"i":350,"o":1.05332,"h":1.05346,"l":1.05309,"c":1.05326},{"i":351,"o":1.0532,"h":1.0534,"l":1.05257,"c":1.0526},{"i":352,"o":1.0526,"h":1.05262,"l":1.05248,"c":1.05254},{"i":353,"o":1.05257,"h":1.05262,"l":1.05225,"c":1.0523},{"i":354,"o":1.05228,"h":1.0523,"l":1.05187,"c":1.05205},{"i":355,"o":1.05208,"h":1.05211,"l":1.05153,"c":1.05158},{"i":356,"o":1.05158,"h":1.05211,"l":1.05155,"c":1.05193},{"i":357,"o":1.05196,"h":1.0523,"l":1.05118,"c":1.05126},{"i":358,"o":1.05123,"h":1.05147,"l":1.05095,"c":1.05132},{"i":359,"o":1.05071,"h":1.05153,"l":1.0506,"c":1.05135},
{"i":360,"o":1.05144,"h":1.05153,"l":1.05071,"c":1.05071},{"i":361,"o":1.05138,"h":1.05178,"l":1.05118,"c":1.05126},{"i":362,"o":1.05129,"h":1.05132,"l":1.05091,"c":1.05123},{"i":363,"o":1.05125,"h":1.05125,"l":1.05091,"c":1.05106}
]},
"layer":[
{"data":{"name":"grid"},"mark":{"type":"rule","color":"#32cd32","strokeWidth":1,"strokeDash":[16,8,3,5],"yOffset":0.5},"encoding":{"y":{"field":"p","type":"quantitative","title":null,"scale":{"domain":[1.043871,1.059636],"nice":false,"zero":false,"padding":0,"round":true},"axis":{"orient":"right","values":[1.05935,1.0584,1.05745,1.05645,1.0555,1.05455,1.0536,1.05265,1.05165,1.0507,1.04975,1.0488,1.04785,1.04685,1.0459,1.04495,1.044],"tickCount":40,"format":".5f","grid":false,"domain":false,"tickColor":"#ffffff","tickSize":4,"tickWidth":1,"labelColor":"#ffffff","labelFont":"Liberation Sans","labelFontSize":9,"labelPadding":5,"labelOverlap":false,"labelBound":false,"labelFlush":false}}}},
{"data":{"name":"last"},"mark":{"type":"rule","color":"#8a8f98","strokeWidth":1,"yOffset":0.5},"encoding":{"y":{"field":"p","type":"quantitative","title":null}}},
{"data":{"name":"bars"},"mark":{"type":"rule","color":"#00ff00","strokeWidth":1,"yOffset":0.5,"y2Offset":0.5},"encoding":{"x":{"field":"i","type":"quantitative","title":null,"scale":{"domain":[-0.375,365.375],"nice":false,"zero":false,"padding":0},"axis":{"orient":"bottom","values":[0,16,32,48,64,80,96,112,128,144,160,176,192,208,224,240,256,272,288,304,320,336,352],"labelExpr":"['6 Dec 2022','6 Dec 13:15','6 Dec 17:15','6 Dec 21:15','7 Dec 01:15','7 Dec 05:15','7 Dec 09:15','7 Dec 13:15','7 Dec 17:15','7 Dec 21:15','8 Dec 01:15','8 Dec 05:15','8 Dec 09:15','8 Dec 13:15','8 Dec 17:15','8 Dec 21:15','9 Dec 01:15','9 Dec 05:15','9 Dec 09:15','9 Dec 13:15','9 Dec 17:15','9 Dec 21:15','12 Dec 01:15'][datum.value/16]","grid":false,"domain":false,"tickColor":"#ffffff","tickSize":4,"labelColor":"#ffffff","labelFont":"Liberation Sans","labelFontSize":9.2,"labelAlign":"left","labelPadding":3,"labelOffset":-2,"labelOverlap":false,"labelBound":false,"labelFlush":false}},"y":{"field":"l","type":"quantitative","title":null},"y2":{"field":"h"}}},
{"data":{"name":"bars"},"mark":{"type":"bar","size":2,"stroke":"#00ff00","strokeWidth":1,"yOffset":0.5,"y2Offset":0.5},"encoding":{"x":{"field":"i","type":"quantitative","title":null},"y":{"field":"o","type":"quantitative","title":null},"y2":{"field":"c"},"fill":{"condition":{"test":"datum.c<datum.o","value":"#ffffff"},"value":"#000000"}}},
{"data":{"name":"days"},"mark":{"type":"rule","color":"#ffffff","strokeWidth":1,"strokeDash":[3,2]},"encoding":{"x":{"field":"i","type":"quantitative","title":null}}},
{"data":{"name":"orders"},"mark":{"type":"text","align":"left","baseline":"middle","dy":-6,"font":"Liberation Sans","fontSize":9.4,"color":"#ffffff"},"encoding":{"x":{"field":"i","type":"quantitative","title":null},"y":{"field":"p","type":"quantitative","title":null},"text":{"field":"t"}}},
{"data":{"name":"panel"},"mark":{"type":"text","align":"left","baseline":"middle","font":"Liberation Sans","fontSize":9.2,"color":"#ffffff"},"encoding":{"x":{"field":"i","type":"quantitative","title":null},"y":{"field":"p","type":"quantitative","title":null},"text":{"field":"t"}}},
{"data":{"name":"side"},"mark":{"type":"text","align":"right","baseline":"middle","font":"Liberation Sans","fontSize":12.4,"color":"#ff8c00"},"encoding":{"x":{"field":"i","type":"quantitative","title":null},"y":{"field":"p","type":"quantitative","title":null},"text":{"field":"t"}}},
{"data":{"name":"ea"},"mark":{"type":"text","align":"right","baseline":"middle","font":"Liberation Sans","fontSize":9.2,"color":"#ffffff"},"encoding":{"x":{"field":"i","type":"quantitative","title":null},"y":{"field":"p","type":"quantitative","title":null},"text":{"field":"t"}}},
{"data":{"name":"smile"},"mark":{"type":"text","align":"center","baseline":"middle","font":"DejaVu Sans","fontSize":14,"color":"#ffffff"},"encoding":{"x":{"field":"i","type":"quantitative","title":null},"y":{"field":"p","type":"quantitative","title":null},"text":{"field":"t"}}},
{"data":{"name":"tag"},"mark":{"type":"rect","color":"#ffffff","clip":false},"encoding":{"x":{"field":"i","type":"quantitative","title":null},"x2":{"field":"i2"},"y":{"field":"p","type":"quantitative","title":null},"y2":{"field":"p2"}}},
{"data":{"name":"tagtext"},"mark":{"type":"text","align":"left","baseline":"middle","font":"Liberation Sans","fontSize":9,"color":"#000000"},"encoding":{"x":{"field":"i","type":"quantitative","title":null},"y":{"field":"p","type":"quantitative","title":null},"text":{"field":"t"}}},
{"data":{"name":"edge"},"mark":{"type":"rule","color":"#a8a8a8","strokeWidth":2,"clip":false},"encoding":{"x":{"field":"i","type":"quantitative","title":null},"x2":{"field":"i2"},"y":{"field":"p","type":"quantitative","title":null},"y2":{"field":"p2"}}}
]}
